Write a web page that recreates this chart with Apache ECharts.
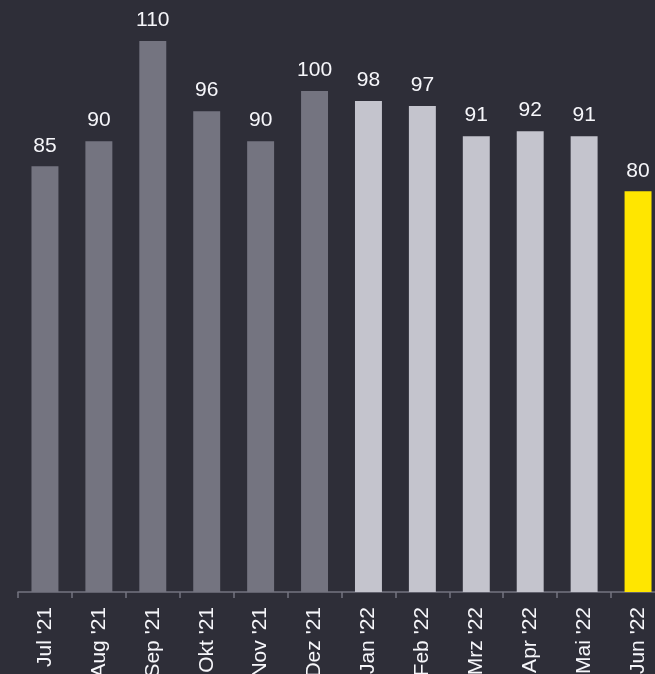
<!DOCTYPE html>
<html>
<head>
<meta charset="utf-8">
<script src="https://cdn.jsdelivr.net/npm/echarts@6/dist/echarts.min.js"></script>
<style>
html,body{margin:0;padding:0;background:#2e2e38;}
#chart{width:655px;height:674px;}
</style>
</head>
<body>
<div id="chart"></div>
<script>
const categories = ["Jul '21","Aug '21","Sep '21","Okt '21","Nov '21","Dez '21","Jan '22","Feb '22","Mrz '22","Apr '22","Mai '22","Jun '22"];
const values = [85, 90, 110, 96, 90, 100, 98, 97, 91, 92, 91, 80];
const barColors = ["#747480","#747480","#747480","#747480","#747480","#747480","#c4c4cd","#c4c4cd","#c4c4cd","#c4c4cd","#c4c4cd","#ffe600"];

const chart = echarts.init(document.getElementById('chart'));
chart.setOption({
  backgroundColor: '#2e2e38',
  animation: false,
  grid: { left: 18, right: -10, top: 41, bottom: 82, containLabel: false, outerBoundsMode: 'none' },
  xAxis: {
    type: 'category',
    data: categories,
    boundaryGap: true,
    axisLine: { show: true, lineStyle: { color: '#747480', width: 1.5 } },
    axisTick: { show: true, length: 6, alignWithLabel: false, lineStyle: { color: '#747480', width: 1.5 } },
    axisLabel: {
      rotate: 90, margin: 15, color: '#f6f6fa', fontSize: 21,
      fontFamily: 'Liberation Sans, Arial, sans-serif', interval: 0
    }
  },
  yAxis: { type: 'value', min: 0, max: 110, show: false, splitLine: { show: false } },
  series: [{
    type: 'bar',
    barWidth: '50%',
    data: values.map((v, i) => ({ value: v, itemStyle: { color: barColors[i] } })),
    label: {
      show: true, position: 'top', distance: 10, color: '#f6f6fa', fontSize: 21,
      fontFamily: 'Liberation Sans, Arial, sans-serif'
    }
  }]
});
</script>
</body>
</html>
